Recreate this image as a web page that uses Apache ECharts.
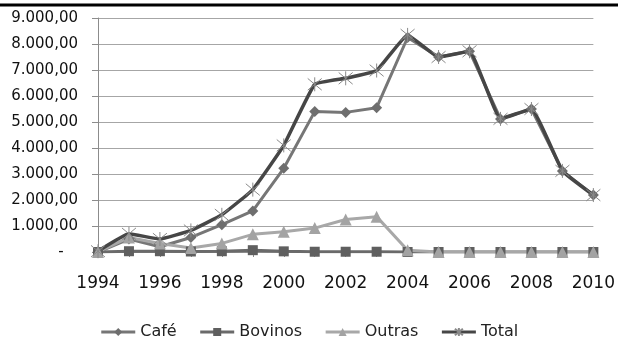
<!DOCTYPE html>
<html>
<head>
<meta charset="utf-8">
<script src="https://cdn.jsdelivr.net/npm/echarts@6/dist/echarts.min.js"></script>
<style>
  html, body { margin: 0; padding: 0; background: #fff; }
  #chart { width: 618px; height: 339px; }
</style>
</head>
<body>
<div id="chart"></div>
<script>
// anos
const years = ['1994', '1995', '1996', '1997', '1998', '1999', '2000', '2001', '2002',
  '2003', '2004', '2005', '2006', '2007', '2008', '2009', '2010']

// valores
const cafe = [0, 500, 200, 560, 1050, 1580, 3220, 5400, 5370, 5550, 8250, 7500, 7720, 5120, 5500, 3120, 2190]
const bovinos = [0, 30, 30, 20, 30, 70, 25, 10, 10, 10, 0, 0, 0, 0, 0, 0, 0]
const outras = [0, 560, 330, 150, 330, 680, 780, 920, 1250, 1360, 70, 0, 0, 0, 0, 0, 0]
const total = [30, 700, 500, 830, 1430, 2400, 4100, 6450, 6680, 6980, 8350, 7500, 7720, 5120, 5500, 3120, 2190]

const yTicks = { min: 0, max: 9000, interval: 1000 }

// 9000 -> "9.000,00", 0 -> "-"
const fmtBR = (v) => {
  if (v === 0) return '-   '
  const s = Math.round(v).toString().replace(/\B(?=(\d{3})+(?!\d))/g, '.')
  return s + ',00'
}

const starPath = 'path://M0,0L10,10M10,0L0,10M5,-1L5,11'

const chart = echarts.init(document.getElementById('chart'), null, { renderer: 'canvas' })

const option = {
  backgroundColor: '#fff',
  animation: false,
  textStyle: { fontFamily: 'DejaVu Sans' },
  grid: { left: 98, right: 20, top: 18, bottom: 87 },
  legend: {
    top: 319,
    left: 'center',
    itemWidth: 34,
    itemHeight: 10,
    itemGap: 22,
    lineStyle: { width: 3 },
    textStyle: { fontSize: 16, color: '#222', fontFamily: 'DejaVu Sans' },
    data: ['Café', 'Bovinos', 'Outras', 'Total']
  },
  xAxis: {
    type: 'category',
    data: years,
    boundaryGap: false,
    axisLine: { lineStyle: { color: '#8c8c8c', width: 1 } },
    axisTick: { show: true, interval: 0, length: 5, lineStyle: { color: '#8c8c8c' } },
    axisLabel: { interval: 1, margin: 23, fontSize: 17, color: '#111' },
    splitLine: { show: false }
  },
  yAxis: {
    type: 'value',
    min: yTicks.min,
    max: yTicks.max,
    interval: yTicks.interval,
    axisLine: { show: true, lineStyle: { color: '#8c8c8c', width: 1 } },
    axisTick: { show: true, length: 6, lineStyle: { color: '#8c8c8c' } },
    axisLabel: { margin: 20, fontSize: 15, color: '#111', formatter: fmtBR },
    splitLine: { lineStyle: { color: '#a6a6a6', width: 1 } }
  },
  series: [
    {
      name: 'Café',
      type: 'line',
      data: cafe,
      symbol: 'diamond',
      symbolSize: 11,
      lineStyle: { color: '#767676', width: 3 },
      itemStyle: { color: '#6e6e6e' }
    },
    {
      name: 'Bovinos',
      type: 'line',
      data: bovinos,
      symbol: 'rect',
      symbolSize: 10,
      lineStyle: { color: '#6a6a6a', width: 3 },
      itemStyle: { color: '#5f5f5f' }
    },
    {
      name: 'Outras',
      type: 'line',
      data: outras,
      symbol: 'triangle',
      symbolSize: 12,
      lineStyle: { color: '#a8a8a8', width: 3 },
      itemStyle: { color: '#a3a3a3' }
    },
    {
      name: 'Total',
      type: 'line',
      data: total,
      smooth: 0.1,
      symbol: starPath,
      symbolSize: 14,
      lineStyle: { color: '#464646', width: 3.5 },
      itemStyle: { color: '#464646', borderColor: '#8a8a8a', borderWidth: 1 }
    }
  ],
  graphic: [
    {
      type: 'line',
      shape: { x1: 0, y1: 5, x2: 618, y2: 5 },
      style: { stroke: '#000', lineWidth: 3 },
      silent: true
    }
  ]
}

chart.setOption(option)

window.addEventListener('resize', () => chart.resize())
</script>
</body>
</html>
